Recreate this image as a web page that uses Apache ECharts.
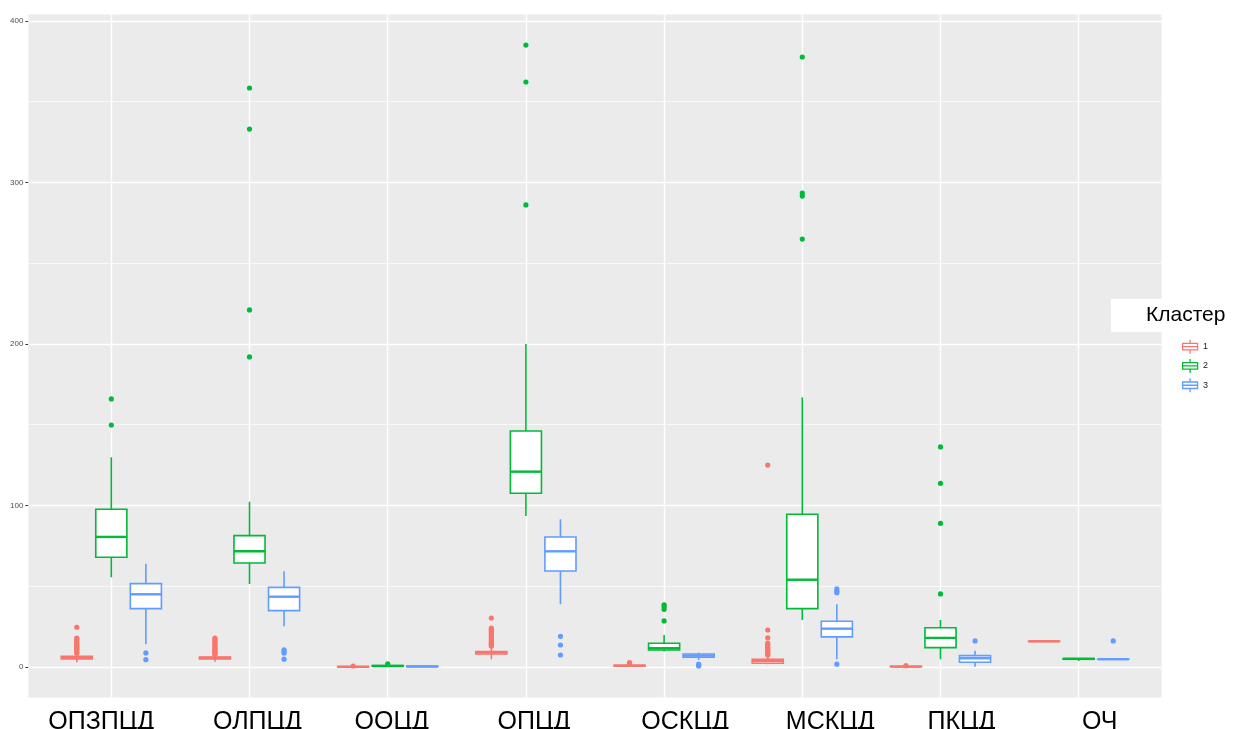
<!DOCTYPE html>
<html>
<head>
<meta charset="utf-8">
<script src="https://cdn.jsdelivr.net/npm/echarts@6/dist/echarts.min.js"></script>
<style>html,body{margin:0;padding:0;background:#fff;}#c{width:1237px;height:729px;}</style>
</head>
<body>
<div id="c"></div>
<script>
// ---- data ----
var categories = ['ОПЗПЦД', 'ОЛПЦД', 'ООЦД', 'ОПЦД', 'ОСКЦД', 'МСКЦД', 'ПКЦД', 'ОЧ'];
var clusterNames = ['1', '2', '3'];
var yTicks = [0, 100, 200, 300, 400];
var yMinor = [50, 150, 250, 350];

// [lower whisker, Q1, median, Q3, upper whisker] per category
var box1 = [
  [2.9, 5.0, 5.8, 6.6, 8.0],
  [3.3, 4.9, 5.6, 6.2, 7.4],
  [0, 0, 0.1, 0.3, 0.5],
  [4.8, 8.0, 8.9, 9.5, 11.8],
  [0.2, 0.5, 0.8, 1.0, 1.5],
  [1.7, 2.3, 3.7, 4.8, 6.4],
  [0, 0.1, 0.2, 0.4, 0.6],
  [15.9, 15.9, 15.9, 15.9, 15.9]
];
var box2 = [
  [55.5, 67.9, 80.5, 97.6, 129.8],
  [51.4, 64.4, 71.6, 81.3, 102.3],
  [0.2, 0.4, 0.6, 0.9, 1.2],
  [93.5, 107.5, 120.9, 146.1, 199.9],
  [9.5, 10.5, 11.6, 14.7, 19.8],
  [29.1, 36.1, 54.0, 94.5, 166.9],
  [4.8, 12.0, 18.0, 24.3, 29.1],
  [3.7, 4.8, 5.0, 5.2, 5.4]
];
var box3 = [
  [14.1, 36.1, 45.0, 51.6, 63.9],
  [25.2, 34.9, 43.5, 49.3, 59.2],
  [0, 0.1, 0.3, 0.5, 0.7],
  [38.8, 59.4, 71.6, 80.5, 91.4],
  [4.3, 6.0, 7.0, 8.0, 8.9],
  [4.8, 18.6, 23.7, 28.3, 38.8],
  [0.2, 2.9, 5.4, 7.0, 10.1],
  [4.8, 4.8, 4.8, 4.8, 4.8]
];
// outliers per category
var out1 = [
  [8.5, 9.2, 10, 10.8, 11.5, 12.3, 13, 14, 15, 16, 17, 17.8, 24.6],
  [7.6, 8.3, 9, 9.8, 10.5, 11.3, 12, 13, 14, 15, 16, 17, 17.8],
  [0.6],
  [13.0, 13.8, 14.5, 15.5, 16.5, 17.5, 18.5, 19.5, 20.5, 21.5, 22.5, 23.3, 24.0, 30.3],
  [1.8, 2.7],
  [7.4, 8, 8.8, 9.5, 10.3, 11, 12, 13, 14, 14.7, 18.1, 22.9, 125.0],
  [0.8],
  []
];
var out2 = [
  [149.8, 165.9],
  [191.9, 221.0, 333.0, 358.4],
  [1.9],
  [286.0, 362.1, 385.0],
  [28.5, 35.7, 37.5, 38.4],
  [264.9, 291.5, 293.4, 377.6],
  [45.2, 88.9, 113.7, 136.2],
  []
];
var out3 = [
  [4.5, 8.7],
  [4.8, 8.6, 9.6, 10.6],
  [],
  [7.4, 13.6, 19.0],
  [0.6, 1.2, 1.7],
  [1.7, 46.0, 47.0, 48.3],
  [16.1],
  [16.1]
];

var colors = ['#F8766D', '#00BA38', '#619CFF'];
var boxes = [box1, box2, box3];
var outs = [out1, out2, out3];
// horizontal nudge of each category label (px), as placed in the reference
var labelNudge = [-10, 8, 4, 8, 21, 28, 21, 21];

var Y_MIN = -18.9, Y_MAX = 403.9;
var SLOT = 0.25, BOXW = 0.225;

function boxRender(k) {
  return function (params, api) {
    var c = api.value(0);
    var bw = api.size([1, 0])[0];
    var off = (k - 1) * SLOT * bw;
    var hw = BOXW * bw / 2;
    var pLow = api.coord([c, api.value(1)]);
    var pQ1 = api.coord([c, api.value(2)]);
    var pMed = api.coord([c, api.value(3)]);
    var pQ3 = api.coord([c, api.value(4)]);
    var pHigh = api.coord([c, api.value(5)]);
    var x = pMed[0] + off;
    var col = colors[k];
    var ls = { stroke: col, lineWidth: 1.6 };
    return {
      type: 'group',
      children: [
        { type: 'line', shape: { x1: x, y1: pLow[1], x2: x, y2: pQ1[1] }, style: ls },
        { type: 'line', shape: { x1: x, y1: pQ3[1], x2: x, y2: pHigh[1] }, style: ls },
        { type: 'rect', shape: { x: x - hw, y: pQ3[1], width: 2 * hw, height: Math.max(pQ1[1] - pQ3[1], 0.1) },
          style: { fill: '#fff', stroke: col, lineWidth: 1.6 } },
        { type: 'line', shape: { x1: x - hw, y1: pMed[1], x2: x + hw, y2: pMed[1] }, style: { stroke: col, lineWidth: 2.4 } }
      ]
    };
  };
}
function outRender(k) {
  return function (params, api) {
    var p = api.coord([api.value(0), api.value(1)]);
    var bw = api.size([1, 0])[0];
    var off = (k - 1) * SLOT * bw;
    return { type: 'circle', shape: { cx: p[0] + off, cy: p[1], r: 2.6 }, style: { fill: colors[k] } };
  };
}

var series = [];
// grid lines (drawn through the panel axes)
var mlData = [];
for (var i = 0; i < categories.length; i++) mlData.push({ xAxis: i + 1, lineStyle: { width: 1.4 } });
yTicks.forEach(function (v) { mlData.push({ yAxis: v, lineStyle: { width: 1.4 } }); });
yMinor.forEach(function (v) { mlData.push({ yAxis: v, lineStyle: { width: 0.7 } }); });
series.push({
  type: 'line', xAxisIndex: 0, yAxisIndex: 0, data: [], z: 1, silent: true,
  markLine: { silent: true, z: 1, symbol: 'none', label: { show: false }, animation: false,
    lineStyle: { color: '#ffffff', type: 'solid' }, data: mlData }
});
for (var k = 0; k < 3; k++) {
  var bd = boxes[k].map(function (b, ci) { return [ci].concat(b); });
  series.push({
    type: 'custom', name: clusterNames[k], xAxisIndex: 1, yAxisIndex: 1, z: 10,
    renderItem: boxRender(k), data: bd, encode: { x: 0, y: [1, 2, 3, 4, 5] }, animation: false
  });
  var od = [];
  outs[k].forEach(function (arr, ci) { arr.forEach(function (v) { od.push([ci, v]); }); });
  series.push({
    type: 'custom', name: clusterNames[k], xAxisIndex: 1, yAxisIndex: 1, z: 11,
    renderItem: outRender(k), data: od, encode: { x: 0, y: 1 }, animation: false
  });
}

var rich = {};
labelNudge.forEach(function (d, i) {
  rich['s' + i] = {
    fontSize: 25, color: '#000', fontFamily: 'Liberation Sans',
    padding: d >= 0 ? [0, 0, 0, 2 * d] : [0, -2 * d, 0, 0]
  };
});

var legendIcon = 'path://M0,4 L16,4 L16,11 L0,11 Z M0,7.5 L16,7.5 M8,0 L8,4 M8,11 L8,15';

var option = {
  animation: false,
  backgroundColor: '#ffffff',
  title: {
    text: 'Кластер', left: 1111, top: 299,
    backgroundColor: '#ffffff', padding: [6, 12, 6, 35],
    textStyle: { fontSize: 21, fontWeight: 'normal', color: '#000', fontFamily: 'Liberation Sans' }
  },
  legend: {
    orient: 'vertical', left: 1177, top: 334, itemWidth: 16, itemHeight: 14, itemGap: 4,
    textStyle: { fontSize: 9, color: '#1a1a1a', fontFamily: 'Liberation Sans' },
    data: clusterNames.map(function (n, k) {
      return { name: n, icon: legendIcon, itemStyle: { color: '#ffffff', borderColor: colors[k], borderWidth: 1.3 } };
    }),
    selectedMode: false
  },
  grid: [
    { left: 28.4, right: 1237 - 1161.6, top: 14.5, bottom: 729 - 697.5, show: true,
      backgroundColor: '#EBEBEB', borderWidth: 0, containLabel: false, outerBoundsMode: 'none' },
    { left: 28.4 + 0.1 * 138.15, right: 1237 - 1161.6 + 0.1 * 138.15, top: 14.5, bottom: 729 - 697.5,
      containLabel: false, outerBoundsMode: 'none' }
  ],
  xAxis: [
    { type: 'value', gridIndex: 0, min: 0.4, max: 8.6, show: false },
    { type: 'category', gridIndex: 1, data: categories, boundaryGap: true,
      axisLine: { show: false }, axisTick: { show: false }, splitLine: { show: false },
      axisLabel: { fontSize: 25, color: '#000', margin: 12, fontFamily: 'Liberation Sans', interval: 0,
        formatter: function (v, idx) { return '{s' + idx + '|' + v + '}'; }, rich: rich } }
  ],
  yAxis: [
    { type: 'value', gridIndex: 0, min: Y_MIN, max: Y_MAX,
      axisLine: { show: false }, splitLine: { show: false },
      axisTick: { show: true, length: 3, lineStyle: { color: '#333' }, customValues: yTicks },
      axisLabel: { fontSize: 8, color: '#4D4D4D', margin: 5, customValues: yTicks, fontFamily: 'Liberation Sans' } },
    { type: 'value', gridIndex: 1, min: Y_MIN, max: Y_MAX, show: false, splitLine: { show: false } }
  ],
  series: series
};
var chart = echarts.init(document.getElementById('c'), null, { renderer: 'canvas' });
chart.setOption(option);
</script>
</body>
</html>
